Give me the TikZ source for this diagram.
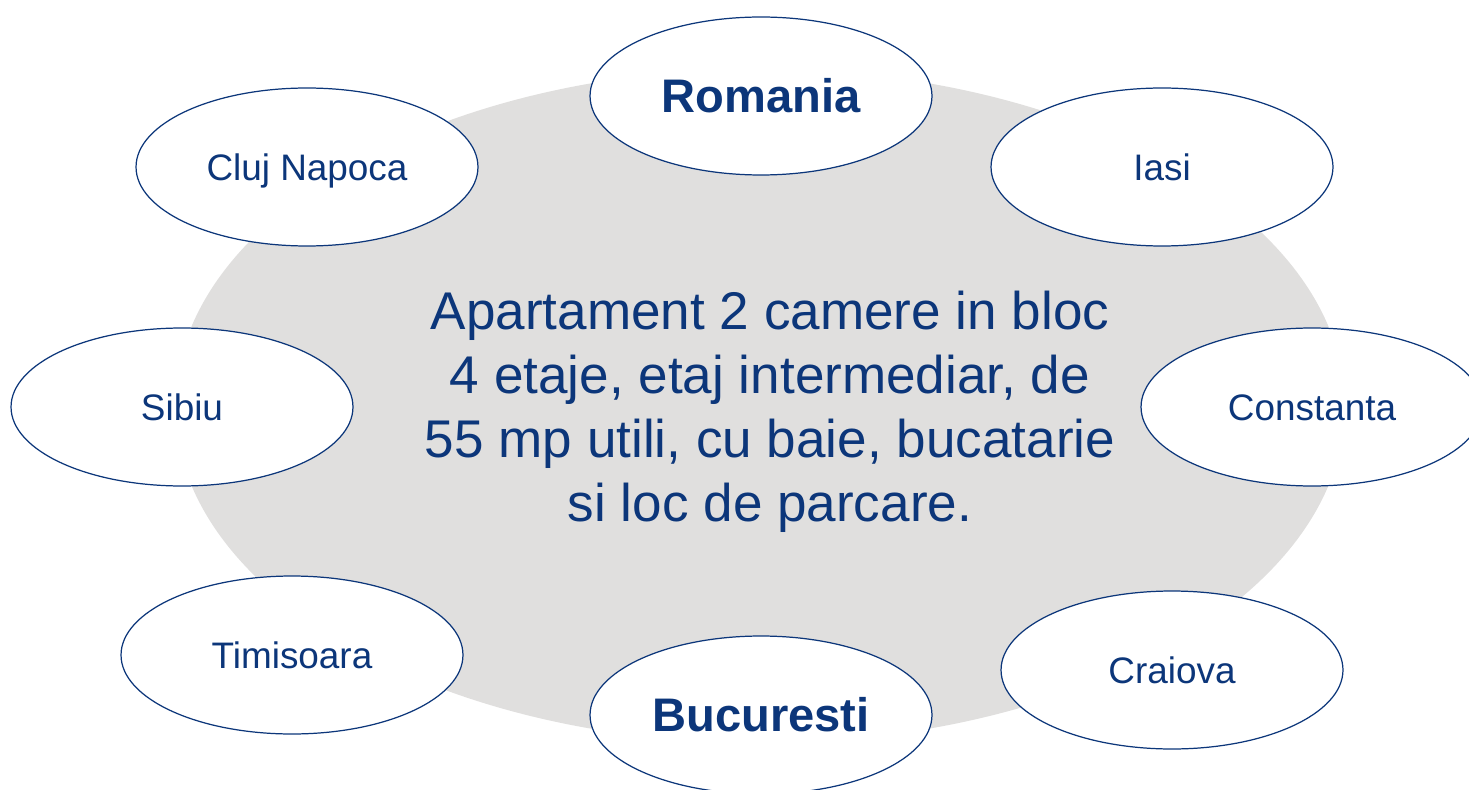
\documentclass[tikz,border=0pt]{standalone}
\usepackage{fontspec}
\setmainfont{Liberation Sans}
\usepackage{tikz}
\usetikzlibrary{shapes.geometric}
\definecolor{navytext}{RGB}{12,54,122}
\definecolor{discgray}{RGB}{224,223,222}
\tikzset{
  oras/.style={ellipse, draw=navytext, line width=0.7pt, fill=white, text=navytext,
    minimum width=6.84cm, minimum height=3.16cm, inner sep=0pt,
    text height=19pt, text depth=4pt,
    font=\fontsize{21}{25}\selectfont},
  capitala/.style={oras, text height=23pt, text depth=4pt,
    font=\fontsize{26.8}{32}\selectfont\bfseries}
}
\begin{document}
\begin{tikzpicture}[x=0.02cm, y=-0.02cm]
\clip (0,0) rectangle (1469,790);
\node[ellipse, fill=discgray, minimum width=23.4cm, minimum height=13.48cm, inner sep=0pt] (fundal) at (760,406) {};
\node[text=navytext, align=center, font=\fontsize{30.2}{36.4}\selectfont] (descriere) at (770,412) {
Apartament 2 camere in bloc\\
4 etaje, etaj intermediar, de\\
55 mp utili, cu baie, bucatarie\\
si loc de parcare.
};
\node[capitala] (romania) at (761,96) {Romania};
\node[capitala] (bucuresti) at (761,715) {Bucuresti};
\node[oras] (cluj) at (307,167) {Cluj Napoca};
\node[oras] (iasi) at (1162,167) {Iasi};
\node[oras] (sibiu) at (182,407) {Sibiu};
\node[oras] (constanta) at (1312,407) {Constanta};
\node[oras] (timisoara) at (292,655) {Timisoara};
\node[oras] (craiova) at (1172,670) {Craiova};
\end{tikzpicture}
\end{document}
